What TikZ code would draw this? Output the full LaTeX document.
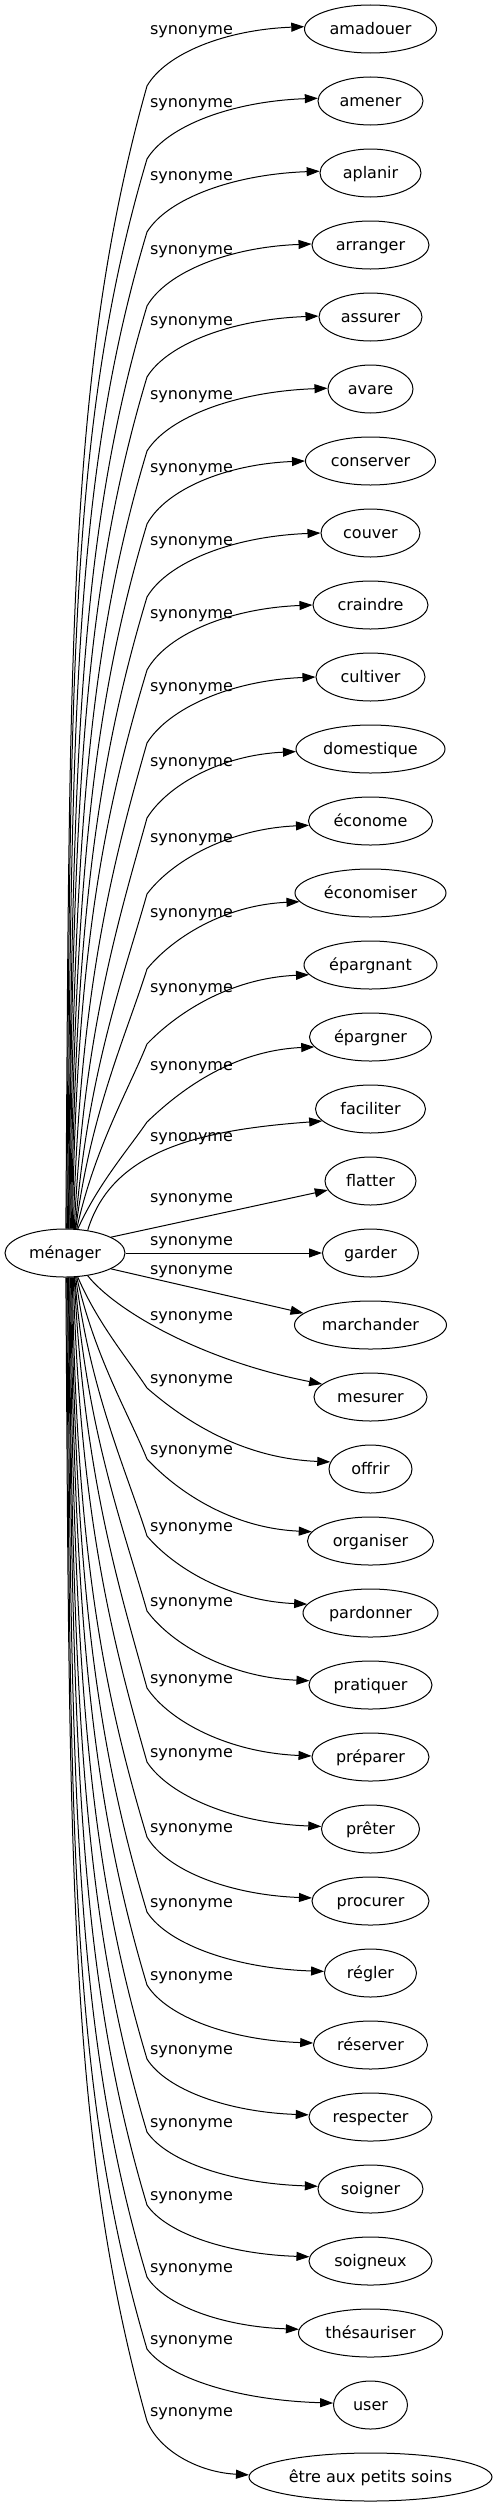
\documentclass[tikz,border=0pt]{standalone}
\usepackage{fontspec}
\newfontfamily\dvfam{DejaVu Sans}
\usetikzlibrary{shapes.geometric,arrows.meta,calc}
\newcommand\dvf{\dvfam\fontsize{16bp}{19bp}\selectfont}
\tikzset{
 term/.style={draw, ellipse, line width=1bp, inner sep=0pt, minimum height=48bp, text height=14bp, text depth=3.4bp, font=\dvf},
 lab/.style={inner sep=0pt, text height=14bp, text depth=3.4bp, font=\dvf},
 syn/.style={line width=1bp, -{Triangle[length=13bp,width=9bp]}},
}
\newcommand\synA[4]{%
 \draw[syn] let \p1=(m.#1), \p2=(147,-#4), \p3=(#2.#3), \n1={min(1,abs((\y2)-(\y1))/550)} in
 (\p1) .. controls ({\x1+((1-\n1)*0.35+\n1*0.05)*(\x2-\x1)},{(\y1)+(0.4+0.1*\n1)*((\y2)-(\y1))})
  and ({\x2-(1-\n1)*0.3*(\x2-\x1)-\n1*min(0.99*(\x2-\x1),0.075*abs((\y2)-(\y1)))},{(\y2)-0.25*((\y2)-(\y1))}) .. (\p2)
 .. controls ({\x2+(0.12+0.08*(1-\n1))*(\x3-\x2)},{(\y2)+0.55*(0.65+0.35*\n1)*((\y3)-(\y2))})
  and ({\x3-0.5*(\x3-\x2)},{(\y3)-0.05*((\y3)-(\y2))}) .. (\p3);}
\begin{document}
\begin{tikzpicture}[x=1bp,y=1bp]
\fill[white] (0,0) rectangle (497,-2507);
\useasboundingbox (0,0) rectangle (497,-2507);
\node[term, minimum width=120bp] (m) at (65,-1253) {ménager};
\node[term, minimum width=132bp] (t0) at (370.5,-29) {amadouer};
\node[term, minimum width=105bp] (t1) at (370.5,-101) {amener};
\node[term, minimum width=101bp] (t2) at (370.5,-173) {aplanir};
\node[term, minimum width=117bp] (t3) at (370.5,-245) {arranger};
\node[term, minimum width=103bp] (t4) at (370.5,-317) {assurer};
\node[term, minimum width=85bp] (t5) at (370.5,-389) {avare};
\node[term, minimum width=130bp] (t6) at (370.5,-461) {conserver};
\node[term, minimum width=99bp] (t7) at (370.5,-533) {couver};
\node[term, minimum width=115bp] (t8) at (370.5,-605) {craindre};
\node[term, minimum width=109bp] (t9) at (370.5,-677) {cultiver};
\node[term, minimum width=149bp] (t10) at (370.5,-749) {domestique};
\node[term, minimum width=124bp] (t11) at (370.5,-821) {économe};
\node[term, minimum width=151bp] (t12) at (370.5,-893) {économiser};
\node[term, minimum width=133bp] (t13) at (370.5,-965) {épargnant};
\node[term, minimum width=122bp] (t14) at (370.5,-1037) {épargner};
\node[term, minimum width=110bp] (t15) at (370.5,-1109) {faciliter};
\node[term, minimum width=91bp] (t16) at (370.5,-1181) {flatter};
\node[term, minimum width=96bp] (t17) at (370.5,-1253) {garder};
\node[term, minimum width=152bp] (t18) at (370.5,-1325) {marchander};
\node[term, minimum width=113bp] (t19) at (370.5,-1397) {mesurer};
\node[term, minimum width=83bp] (t20) at (370.5,-1469) {offrir};
\node[term, minimum width=126bp] (t21) at (370.5,-1541) {organiser};
\node[term, minimum width=135bp] (t22) at (370.5,-1613) {pardonner};
\node[term, minimum width=123bp] (t23) at (370.5,-1685) {pratiquer};
\node[term, minimum width=117bp] (t24) at (370.5,-1757) {préparer};
\node[term, minimum width=98bp] (t25) at (370.5,-1829) {prêter};
\node[term, minimum width=117bp] (t26) at (370.5,-1901) {procurer};
\node[term, minimum width=92bp] (t27) at (370.5,-1973) {régler};
\node[term, minimum width=114bp] (t28) at (370.5,-2045) {réserver};
\node[term, minimum width=123bp] (t29) at (370.5,-2117) {respecter};
\node[term, minimum width=105bp] (t30) at (370.5,-2189) {soigner};
\node[term, minimum width=123bp] (t31) at (370.5,-2261) {soigneux};
\node[term, minimum width=144bp] (t32) at (370.5,-2333) {thésauriser};
\node[term, minimum width=74bp] (t33) at (370.5,-2405) {user};
\node[term, minimum width=243bp] (t34) at (370.5,-2477) {être aux petits soins};
% labels
\node[lab] (l0) at (191.5,-29) {synonyme};
\node[lab] (l1) at (191.5,-102) {synonyme};
\node[lab] (l2) at (191.5,-175) {synonyme};
\node[lab] (l3) at (191.5,-249) {synonyme};
\node[lab] (l4) at (191.5,-320) {synonyme};
\node[lab] (l5) at (191.5,-394) {synonyme};
\node[lab] (l6) at (191.5,-467) {synonyme};
\node[lab] (l7) at (191.5,-540) {synonyme};
\node[lab] (l8) at (191.5,-613) {synonyme};
\node[lab] (l9) at (191.5,-686) {synonyme};
\node[lab] (l10) at (191.5,-761) {synonyme};
\node[lab] (l11) at (191.5,-837) {synonyme};
\node[lab] (l12) at (191.5,-912) {synonyme};
\node[lab] (l13) at (191.5,-987) {synonyme};
\node[lab] (l14) at (191.5,-1065) {synonyme};
\node[lab] (l15) at (191.5,-1136) {synonyme};
\node[lab] (l16) at (191.5,-1197) {synonyme};
\node[lab] (l17) at (191.5,-1240) {synonyme};
\node[lab] (l18) at (191.5,-1269) {synonyme};
\node[lab] (l19) at (191.5,-1315) {synonyme};
\node[lab] (l20) at (191.5,-1378) {synonyme};
\node[lab] (l21) at (191.5,-1449) {synonyme};
\node[lab] (l22) at (191.5,-1526) {synonyme};
\node[lab] (l23) at (191.5,-1601) {synonyme};
\node[lab] (l24) at (191.5,-1678) {synonyme};
\node[lab] (l25) at (191.5,-1752) {synonyme};
\node[lab] (l26) at (191.5,-1827) {synonyme};
\node[lab] (l27) at (191.5,-1902) {synonyme};
\node[lab] (l28) at (191.5,-1975) {synonyme};
\node[lab] (l29) at (191.5,-2049) {synonyme};
\node[lab] (l30) at (191.5,-2122) {synonyme};
\node[lab] (l31) at (191.5,-2195) {synonyme};
\node[lab] (l32) at (191.5,-2267) {synonyme};
\node[lab] (l33) at (191.5,-2339) {synonyme};
\node[lab] (l34) at (191.5,-2411) {synonyme};
% edges, upper half
\synA{88}{t0}{178}{86}
\synA{86}{t1}{177}{159}
\synA{84}{t2}{178}{232}
\synA{82}{t3}{179}{306}
\synA{81}{t4}{179}{377}
\synA{79}{t5}{179}{451}
\synA{77}{t6}{180}{524}
\synA{75}{t7}{180}{597}
\synA{73}{t8}{180}{670}
\synA{71}{t9}{180}{743}
\synA{69}{t10}{182}{818}
\synA{67}{t11}{184}{894}
\synA{66}{t12}{187}{969}
\synA{64}{t13}{189}{1044}
\synA{62}{t14}{190}{1122}
% edges, middle
\draw[syn] (m.45) .. controls (112,-1150) and (200,-1130) .. (t15.194);
\draw[syn] (m.19) -- (t16.192);
\draw[syn] (m.east) -- (t17.west);
\draw[syn] (m.-19) -- (t18.170);
\draw[syn] (m.-45) .. controls (115,-1310) and (200,-1360) .. (t19.165);
% edges, lower half
\synA{-62}{t20}{170}{1388}
\synA{-64}{t21}{171}{1459}
\synA{-66}{t22}{172}{1536}
\synA{-68}{t23}{176}{1611}
\synA{-69}{t24}{179}{1688}
\synA{-71}{t25}{177}{1762}
\synA{-73}{t26}{177}{1837}
\synA{-75}{t27}{178}{1912}
\synA{-77}{t28}{178}{1985}
\synA{-79}{t29}{178}{2059}
\synA{-81}{t30}{177}{2132}
\synA{-82}{t31}{176}{2205}
\synA{-84}{t32}{177}{2277}
\synA{-86}{t33}{177}{2349}
\synA{-88}{t34}{179}{2421}
\end{tikzpicture}
\end{document}
